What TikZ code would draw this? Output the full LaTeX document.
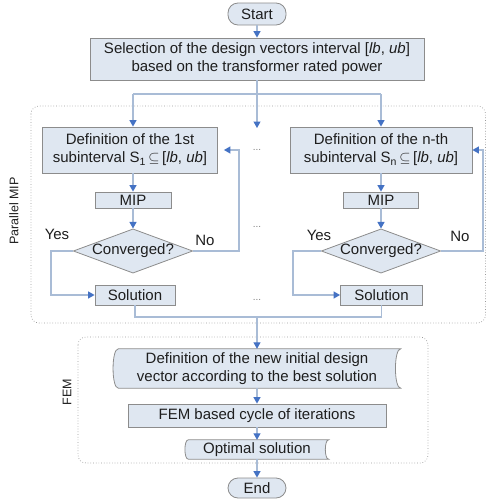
\documentclass[tikz,border=0pt]{standalone}
\usepackage{fontspec}
\setmainfont{Liberation Sans}
\usetikzlibrary{arrows.meta,shapes.geometric,backgrounds}
\definecolor{boxfill}{HTML}{DFE7F1}
\definecolor{boxline}{HTML}{8C8C8C}
\definecolor{connc}{HTML}{A9BCD6}
\definecolor{tipc}{HTML}{4472C4}
\definecolor{txtc}{HTML}{1E1E1E}
\definecolor{regionc}{HTML}{9A9A9A}
\begin{document}
\begin{tikzpicture}[x=1pt,y=-1pt,
  font=\fontsize{15}{18}\selectfont, text=txtc,
  box/.style={draw=boxline, fill=boxfill, line width=0.8pt, inner sep=0pt, align=center},
  pill/.style={box, rounded corners=10pt},
  decision/.style={box, diamond, aspect=2.7},
  plain/.style={inner sep=0pt, align=center},
  conn/.style={draw=connc, line width=1.2pt},
  arr/.style={conn, -{Triangle[width=7pt,length=6.5pt,color=tipc]}},
  region/.style={draw=regionc, dotted, line width=0.7pt, rounded corners=8pt},
  grp/.style={rotate=90, font=\fontsize{12.5}{14}\selectfont},
  dots/.style={text=gray, font=\fontsize{10}{12}\selectfont}]
\useasboundingbox (0,0) rectangle (487,499);

% regions
\draw[region] (31,106) rectangle (485.5,323);
\draw[region] (78,337) rectangle (428,463);
\node[grp] (lblmip) at (14,211) {Parallel MIP};
\node[grp] (lblfem) at (67,392) {FEM};

% nodes
\node[pill, minimum width=58pt, minimum height=22pt] (start) at (257,14) {Start};
\node[box, minimum width=334pt, minimum height=42pt] (sel) at (257,59)
  {Selection of the design vectors interval [\textit{lb}, \textit{ub}]\\based on the transformer rated power};

\node[box, minimum width=175pt, minimum height=46pt] (def1) at (130,150)
  {Definition of the 1st\\subinterval S\textsubscript{1}\,$\subseteq$\,[\textit{lb}, \textit{ub}]};
\node[box, minimum width=76pt, minimum height=16pt] (mip1) at (133,200) {MIP};
\node[decision, minimum width=118pt, minimum height=44pt] (conv1) at (133,251) {Converged?};
\node[box, minimum width=80pt, minimum height=20pt] (sol1) at (135,295) {Solution};

\node[box, minimum width=182pt, minimum height=46pt] (defn) at (381,150)
  {Definition of the n-th\\subinterval S\textsubscript{n}\,$\subseteq$\,[\textit{lb}, \textit{ub}]};
\node[box, minimum width=75pt, minimum height=16pt] (mipn) at (381,200) {MIP};
\node[decision, minimum width=118pt, minimum height=44pt] (convn) at (381,251) {Converged?};
\node[box, minimum width=82pt, minimum height=20pt] (soln) at (381.5,295) {Solution};

\node[plain, minimum width=287pt, minimum height=39pt] (fd) at (257,368.5)
  {Definition of the new initial design\\vector according to the best solution};
\node[box, minimum width=258pt, minimum height=23pt] (fem) at (257,415.5) {FEM based cycle of iterations};
\node[plain, minimum width=143pt, minimum height=19pt] (opt) at (257,449.5) {Optimal solution};
\node[pill, minimum width=58pt, minimum height=20pt] (end) at (257,488) {End};

\begin{scope}[on background layer]
\filldraw[draw=boxline, fill=boxfill, line width=0.8pt]
  ([xshift=5pt]fd.north west) -- (fd.north east)
  .. controls ([xshift=-7pt]fd.north east) and ([xshift=-7pt]fd.south east) .. (fd.south east)
  -- ([xshift=5pt]fd.south west)
  .. controls ([xshift=-2pt]fd.south west) and ([xshift=-2pt]fd.north west) .. ([xshift=5pt]fd.north west) -- cycle;
\filldraw[draw=boxline, fill=boxfill, line width=0.8pt]
  ([xshift=3pt]opt.north west) -- (opt.north east)
  .. controls ([xshift=-4.5pt]opt.north east) and ([xshift=-4.5pt]opt.south east) .. (opt.south east)
  -- ([xshift=3pt]opt.south west)
  .. controls ([xshift=-1.5pt]opt.south west) and ([xshift=-1.5pt]opt.north west) .. ([xshift=3pt]opt.north west) -- cycle;
\end{scope}

\node[dots] (d1) at (257,150) {...};
\node[dots] (d2) at (257,227) {...};
\node[dots] (d3) at (257,300) {...};

% connectors
\coordinate (br) at (257,94);
\coordinate (bl) at (133,94);
\coordinate (brr) at (381,94);
\coordinate (midend) at (257,128);
\coordinate (no1) at (239,150);
\coordinate (yes1) at (51,295);
\coordinate (non) at (483,150);
\coordinate (yesn) at (293,295);
\coordinate (ybot) at (0,317);
\coordinate (jm) at (257,317);

\draw[arr] (start) -- (sel);
\draw[conn] (sel.south) -- (br);
\draw[conn] (bl) -- (brr);
\draw[arr] (bl) -- (bl |- def1.north);
\draw[arr] (brr) -- (brr |- defn.north);
\draw[arr] (br) -- (midend);

\draw[arr] (mip1.north |- def1.south) -- (mip1.north);
\draw[arr] (mip1) -- (conv1);
\draw[arr, shorten >=6pt] (conv1.east) -| (no1) -- (def1.east);
\draw[arr] (conv1.west) -| (yes1) -- (sol1.west);
\node[plain] (no1lbl) at (205,240) {No};
\node[plain] (yes1lbl) at (57,234) {Yes};

\draw[arr] (mipn.north |- defn.south) -- (mipn.north);
\draw[arr] (mipn) -- (convn);
\draw[arr] (convn.east) -| (non) -- (defn.east);
\draw[arr] (convn.west) -| (yesn) -- (soln.west);
\node[plain] (nonlbl) at (460,236) {No};
\node[plain] (yesnlbl) at (319,235) {Yes};

\draw[conn] (sol1.south) -- (sol1.south |- ybot) -- (soln.south |- ybot) -- (soln.south);
\draw[arr] (jm) -- (fd.north);
\draw[arr] (fd) -- (fem);
\draw[arr] (fem) -- (opt);
\draw[arr] (opt) -- (end);
\end{tikzpicture}
\end{document}
